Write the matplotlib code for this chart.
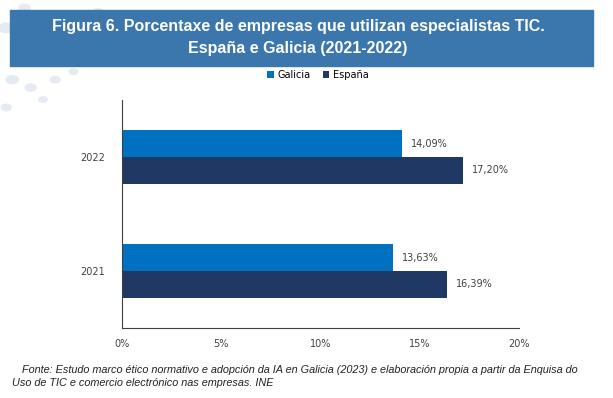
import matplotlib.pyplot as plt
import numpy as np
from matplotlib.patches import Rectangle, Circle

# datos
anos = ['2021', '2022']
galicia = [13.63, 14.09]
espana = [16.39, 17.20]
series = ['Galicia', 'España']
col_galicia = '#0070c0'
col_espana = '#1f3864'

fig = plt.figure(figsize=(6.13, 3.98), dpi=100)
fig.patch.set_facecolor('white')

# puntos decorativos
for (cx, cy, r) in [(0.01, 0.93, 0.012), (0.03, 0.86, 0.011), (0.02, 0.80, 0.010),
                    (0.05, 0.78, 0.009), (0.09, 0.80, 0.008), (0.12, 0.82, 0.007),
                    (0.07, 0.75, 0.007), (0.16, 0.97, 0.008), (0.25, 0.96, 0.007),
                    (0.04, 0.98, 0.009), (0.01, 0.73, 0.008)]:
    fig.patches.append(Circle((cx, cy), r, transform=fig.transFigure,
                              color='#e6ebf3', zorder=0))

# banda del titulo
fig.patches.append(Rectangle((10/613, 1-66/398), 583/613, 56/398, transform=fig.transFigure,
                             color='#3b77ad', zorder=1))
fig.text(298/613, 1-27/398, 'Figura 6. Porcentaxe de empresas que utilizan especialistas TIC.',
         ha='center', va='center', color='white', fontsize=11.5, fontweight='bold',
         family='Liberation Sans')
fig.text(298/613, 1-49/398, 'España e Galicia (2021-2022)',
         ha='center', va='center', color='white', fontsize=11.5, fontweight='bold',
         family='Liberation Sans')

ax = fig.add_axes([122/613, 70/398, 397/613, 228/398])
y = np.arange(len(anos))
h = 0.233
b1 = ax.barh(y + h/2, galicia, height=h, color=col_galicia, label=series[0])
b2 = ax.barh(y - h/2, espana, height=h, color=col_espana, label=series[1])

for bars, vals in [(b1, galicia), (b2, espana)]:
    for bar, v in zip(bars, vals):
        ax.text(v + 0.45, bar.get_y() + bar.get_height()/2,
                '{:.2f}%'.format(v).replace('.', ','),
                va='center', ha='left', fontsize=7, color='#404040')

ax.set_xlim(0, 20)
ax.set_ylim(-0.5, 1.5)
ax.set_yticks(y)
ax.set_yticklabels(anos)
ax.set_xticks([0, 5, 10, 15, 20])
ax.set_xticklabels(['0%', '5%', '10%', '15%', '20%'])
ax.tick_params(axis='both', length=0, labelsize=7, colors='#404040')
ax.tick_params(axis='y', pad=12)
ax.tick_params(axis='x', pad=8)
for s in ['top', 'right']:
    ax.spines[s].set_visible(False)
ax.spines['left'].set_color('#404040')
ax.spines['bottom'].set_color('#404040')

ax.legend(loc='center', bbox_to_anchor=(318/613, 1-75/398), bbox_transform=fig.transFigure,
          ncol=2, frameon=False, fontsize=7, handlelength=0.7, handleheight=0.7,
          columnspacing=1.2, handletextpad=0.4)

fig.text(22/613, 1-370/398,
         'Fonte: Estudo marco ético normativo e adopción da IA en Galicia (2023) e elaboración propia a partir da Enquisa do',
         ha='left', va='center', fontsize=7.8, style='italic', color='#222222', family='Liberation Sans')
fig.text(12/613, 1-383/398,
         'Uso de TIC e comercio electrónico nas empresas. INE',
         ha='left', va='center', fontsize=7.8, style='italic', color='#222222', family='Liberation Sans')

fig.savefig('out.png', dpi=100)
